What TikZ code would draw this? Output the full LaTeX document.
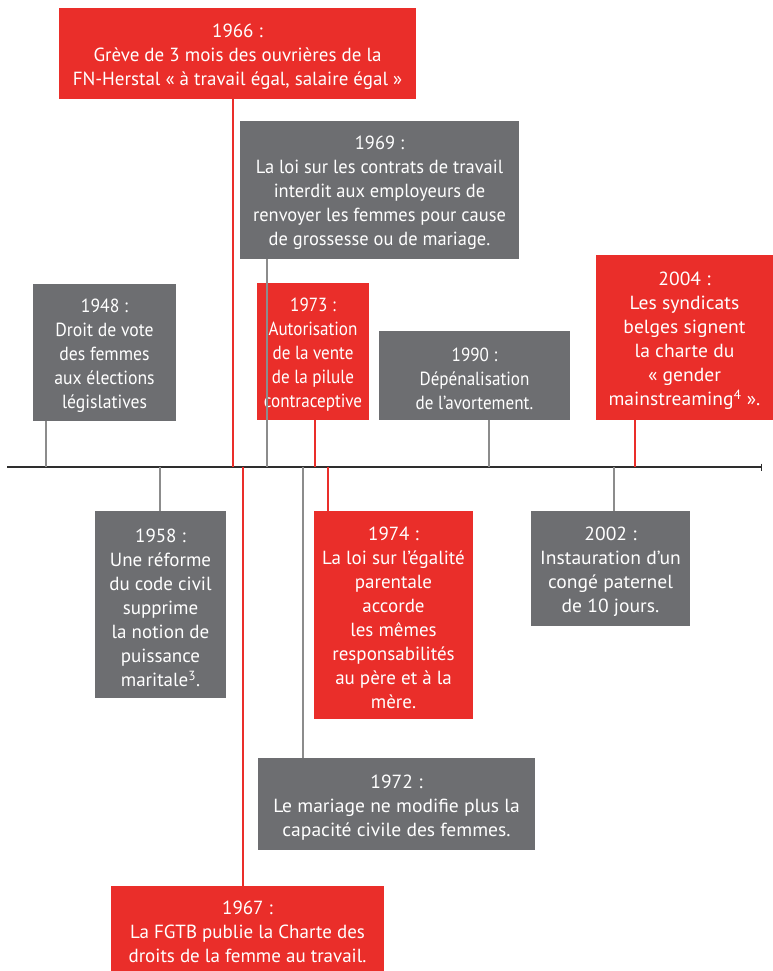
\documentclass[tikz,border=0pt]{standalone}
\usepackage{fontspec}
\setmainfont{PT Sans}
\newfontfamily\fnarrowA[FakeStretch=0.90]{PT Sans}
\newfontfamily\fnarrowB[FakeStretch=0.93]{PT Sans}
\newfontfamily\fnarrowC[FakeStretch=0.97]{PT Sans}
\newfontfamily\fwideA[FakeStretch=1.03]{PT Sans}
\usetikzlibrary{arrows.meta}
\definecolor{tlred}{HTML}{EA2E2A}
\definecolor{tlgray}{HTML}{6D6E71}
\definecolor{tlline}{HTML}{8C8C8C}
\definecolor{tlaxis}{HTML}{2E2E2E}
\newcommand{\firstline}{\rule{0pt}{20pt}}
\begin{document}
\begin{tikzpicture}[x=1pt,y=-1pt,
  evbox/.style={rectangle,inner sep=0pt,outer sep=0pt,anchor=north west,text=white,align=center},
  redbox/.style={evbox,fill=tlred,font=#1\fontsize{19}{24}\selectfont},
  redbox/.default=\relax,
  graybox/.style={evbox,fill=tlgray,font=#1\fontsize{19}{24}\selectfont},
  graybox/.default=\relax,
  redlink/.style={draw=tlred,line width=1.1pt},
  graylink/.style={draw=tlline,line width=1.1pt},
  axisline/.style={draw=tlaxis,line width=1.3pt}]
\useasboundingbox (0,0) rectangle (773,971);

% axis
\coordinate (axL) at (7,467);
\coordinate (axR) at (762,467);
\draw[axisline,-{Bar[width=7pt]}] (axL) -- (axR);

% axis anchor points
\coordinate (a1948) at (46,467);
\coordinate (a1958) at (160,467);
\coordinate (a1966) at (233,467);
\coordinate (a1967) at (243,467);
\coordinate (a1969) at (267,467);
\coordinate (a1972) at (303,467);
\coordinate (a1973) at (315,467);
\coordinate (a1974) at (328,467);
\coordinate (a1990) at (489,467);
\coordinate (a2002) at (614,467);
\coordinate (a2004) at (635,467);

% boxes
\node[redbox,minimum width=357pt,minimum height=91pt] (n1966) at (59,8)
  {\firstline 1966 :\\Grève de 3 mois des ouvrières de la\\FN-Herstal « à travail égal, salaire égal »};
\node[graybox=\fnarrowC,minimum width=279pt,minimum height=138pt] (n1969) at (240,121)
  {\firstline 1969 :\\La loi sur les contrats de travail\\interdit aux employeurs de\\renvoyer les femmes pour cause\\de grossesse ou de mariage.};
\node[graybox=\fnarrowB,minimum width=143pt,minimum height=137pt] (n1948) at (33,284)
  {\firstline 1948 :\\Droit de vote\\des femmes\\aux élections\\législatives};
\node[redbox=\fnarrowA,minimum width=112pt,minimum height=137pt] (n1973) at (257,283)
  {\firstline 1973 :\\Autorisation\\de la vente\\de la pilule\\contraceptive};
\node[graybox=\fnarrowA,minimum width=191pt,minimum height=89pt] (n1990) at (379,331)
  {\firstline 1990 :\\Dépénalisation\\de l’avortement.};
\node[redbox=\fwideA,minimum width=177pt,minimum height=165pt] (n2004) at (596,255)
  {\firstline 2004 :\\Les syndicats\\belges signent\\la charte du\\« gender\\mainstreaming\textsuperscript{4} ».};
\node[graybox,minimum width=131pt,minimum height=187pt] (n1958) at (95,511)
  {\firstline 1958 :\\Une réforme\\du code civil\\supprime\\la notion de\\puissance\\maritale\textsuperscript{3}.};
\node[redbox,minimum width=159pt,minimum height=208pt] (n1974) at (314,511)
  {\firstline 1974 :\\La loi sur l’égalité\\parentale\\accorde\\les mêmes\\responsabilités\\au père et à la\\mère.};
\node[graybox=\fwideA,minimum width=159pt,minimum height=115pt] (n2002) at (531,511)
  {\firstline 2002 :\\Instauration d’un\\congé paternel\\de 10 jours.};
\node[graybox=\fwideA,minimum width=277pt,minimum height=92pt] (n1972) at (258,758)
  {\firstline 1972 :\\Le mariage ne modifie plus la\\capacité civile des femmes.};
\node[redbox,minimum width=273pt,minimum height=85pt] (n1967) at (111,886)
  {\firstline 1967 :\\La FGTB publie la Charte des\\droits de la femme au travail.};

% connectors above the axis
\draw[graylink] (a1948) -- (a1948 |- n1948.south);
\draw[redlink] (a1966) -- (a1966 |- n1966.south);
\draw[graylink] (a1969) -- (a1969 |- n1969.south);
\draw[redlink] (a1973) -- (a1973 |- n1973.south);
\draw[graylink] (a1990) -- (a1990 |- n1990.south);
\draw[redlink] (a2004) -- (a2004 |- n2004.south);
% connectors below the axis
\draw[graylink] (a1958) -- (a1958 |- n1958.north);
\draw[redlink] (a1967) -- (a1967 |- n1967.north);
\draw[graylink] (a1972) -- (a1972 |- n1972.north);
\draw[redlink] (a1974) -- (a1974 |- n1974.north);
\draw[graylink] (a2002) -- (a2002 |- n2002.north);
\end{tikzpicture}
\end{document}
